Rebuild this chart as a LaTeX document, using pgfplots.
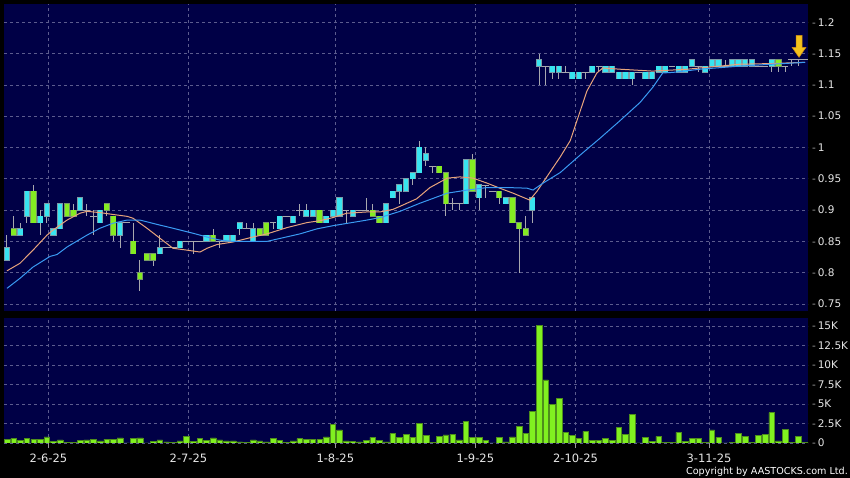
\documentclass[border=0pt]{standalone}
\usepackage{pgfplots}
\pgfplotsset{compat=1.18}
\usepackage{pgfplotstable}
\usepackage{fontspec}
\setmainfont{DejaVu Sans}

\definecolor{navybg}{HTML}{000046}
\definecolor{gridc}{HTML}{5C5C8E}
\definecolor{wick}{HTML}{A8A8AE}
\definecolor{cyanbody}{HTML}{38E4F0}
\definecolor{cyanedge}{HTML}{7C9CA8}
\definecolor{greenbody}{HTML}{84EC22}
\definecolor{greenedge}{HTML}{76966A}
\definecolor{volfill}{HTML}{80F020}
\definecolor{voledge}{HTML}{4E8E1C}
\definecolor{maorange}{HTML}{E8A47C}
\definecolor{mablue}{HTML}{3A9AF2}
\definecolor{labelc}{HTML}{E6E6E6}
\definecolor{tickc}{HTML}{9A9A9A}
\definecolor{arrowc}{HTML}{F4C21C}
\definecolor{arrowedge}{HTML}{D08A10}

\newcommand{\tl}[1]{\textcolor{tickc}{-}\hspace{2bp}#1}

% candles: i, wick low, wick high, body low, body high
\pgfplotstableread{
i wl wh bl bh
0 0.82 0.86 0.82 0.84
2 0.86 0.88 0.86 0.87
3 0.88 0.93 0.89 0.93
5 0.86 0.90 0.88 0.89
6 0.88 0.91 0.89 0.91
7 0.86 0.87 0.86 0.87
8 0.87 0.91 0.87 0.91
11 0.90 0.92 0.90 0.92
14 0.88 0.90 0.88 0.90
17 0.84 0.88 0.86 0.88
23 0.83 0.86 0.83 0.84
26 0.84 0.85 0.84 0.85
30 0.85 0.86 0.85 0.86
33 0.85 0.86 0.85 0.86
34 0.85 0.86 0.85 0.86
35 0.86 0.88 0.87 0.88
37 0.85 0.88 0.85 0.87
41 0.87 0.89 0.87 0.89
43 0.88 0.89 0.88 0.89
45 0.89 0.91 0.89 0.90
46 0.89 0.90 0.89 0.90
48 0.88 0.89 0.88 0.89
49 0.89 0.90 0.89 0.90
50 0.89 0.92 0.89 0.92
52 0.89 0.90 0.89 0.90
57 0.88 0.91 0.88 0.91
58 0.92 0.93 0.92 0.93
59 0.91 0.94 0.93 0.94
60 0.93 0.95 0.93 0.95
61 0.94 0.96 0.95 0.96
62 0.96 1.01 0.96 1.00
63 0.97 1.00 0.98 0.99
69 0.91 0.98 0.91 0.98
71 0.90 0.94 0.92 0.94
75 0.91 0.92 0.91 0.92
79 0.88 0.92 0.90 0.92
80 1.10 1.15 1.13 1.14
82 1.11 1.13 1.12 1.13
83 1.11 1.13 1.12 1.13
85 1.11 1.12 1.11 1.12
86 1.11 1.12 1.11 1.12
88 1.12 1.13 1.12 1.13
90 1.12 1.13 1.12 1.13
91 1.12 1.13 1.12 1.13
92 1.11 1.12 1.11 1.12
93 1.11 1.12 1.11 1.12
94 1.10 1.12 1.11 1.12
96 1.11 1.12 1.11 1.12
97 1.11 1.12 1.11 1.12
98 1.12 1.13 1.12 1.13
99 1.12 1.13 1.12 1.13
101 1.12 1.13 1.12 1.13
102 1.12 1.13 1.12 1.13
103 1.13 1.14 1.13 1.14
105 1.12 1.13 1.12 1.13
106 1.13 1.14 1.13 1.14
107 1.13 1.14 1.13 1.14
109 1.13 1.14 1.13 1.14
110 1.13 1.14 1.13 1.14
111 1.13 1.14 1.13 1.14
112 1.13 1.14 1.13 1.14
115 1.12 1.14 1.13 1.14
}\cyandata

\pgfplotstableread{
i wl wh bl bh
1 0.86 0.89 0.86 0.87
4 0.88 0.94 0.88 0.93
9 0.89 0.91 0.89 0.91
10 0.89 0.91 0.89 0.90
15 0.89 0.91 0.90 0.91
16 0.85 0.89 0.86 0.89
19 0.83 0.88 0.83 0.85
20 0.77 0.82 0.79 0.80
21 0.82 0.83 0.82 0.83
22 0.81 0.83 0.82 0.83
31 0.85 0.87 0.85 0.86
38 0.86 0.87 0.86 0.87
39 0.86 0.88 0.86 0.88
47 0.88 0.90 0.88 0.90
55 0.89 0.91 0.89 0.90
56 0.88 0.89 0.88 0.89
65 0.96 0.97 0.96 0.97
66 0.89 0.96 0.91 0.96
70 0.93 0.99 0.93 0.98
74 0.91 0.93 0.92 0.93
76 0.88 0.92 0.88 0.92
77 0.80 0.88 0.87 0.88
78 0.86 0.89 0.86 0.87
116 1.12 1.14 1.13 1.14
}\greendata

% doji: i, wick low, wick high, price
\pgfplotstableread{
i wl wh p
12 0.89 0.91 0.90
13 0.86 0.90 0.89
18 0.88 0.88 0.88
24 0.84 0.84 0.84
25 0.84 0.84 0.84
27 0.85 0.85 0.85
28 0.83 0.85 0.85
29 0.85 0.85 0.85
32 0.84 0.85 0.85
36 0.87 0.88 0.87
40 0.87 0.88 0.88
42 0.89 0.89 0.89
44 0.89 0.91 0.90
51 0.88 0.90 0.90
53 0.90 0.90 0.90
54 0.90 0.92 0.90
64 0.96 0.97 0.97
67 0.90 0.92 0.91
68 0.90 0.91 0.91
72 0.92 0.94 0.94
73 0.93 0.93 0.93
81 1.10 1.13 1.13
84 1.12 1.13 1.12
87 1.11 1.12 1.12
89 1.12 1.13 1.13
95 1.12 1.12 1.12
100 1.13 1.13 1.13
104 1.12 1.13 1.13
108 1.13 1.14 1.13
113 1.13 1.13 1.13
114 1.13 1.13 1.13
117 1.12 1.13 1.13
118 1.13 1.14 1.14
119 1.13 1.14 1.14
120 1.14 1.14 1.14
}\crossdata

% volume in thousands
\pgfplotstableread{
i v
0 0.47
1 0.60
2 0.38
3 0.56
4 0.47
5 0.45
6 0.77
7 0.17
8 0.40
9 0.10
10 0.10
11 0.30
12 0.40
13 0.47
14 0.28
15 0.45
16 0.45
17 0.66
18 0.03
19 0.56
20 0.66
21 0.02
22 0.20
23 0.40
24 0.13
25 0.05
26 0.28
27 0.81
28 0.20
29 0.60
30 0.30
31 0.66
32 0.40
33 0.28
34 0.28
35 0.13
36 0.10
37 0.40
38 0.28
39 0.13
40 0.56
41 0.30
42 0.05
43 0.28
44 0.56
45 0.50
46 0.50
47 0.47
48 0.80
49 2.43
50 1.67
51 0.28
52 0.20
53 0.13
54 0.30
55 0.73
56 0.35
57 0.13
58 1.20
59 0.73
60 1.07
61 0.68
62 2.56
63 0.94
64 0.05
65 0.86
66 1.03
67 1.15
68 0.40
69 2.82
70 0.68
71 0.68
72 0.35
73 0.02
74 0.68
75 0.13
76 0.77
77 2.09
78 1.24
79 4.02
80 15.09
81 8.08
82 5.00
83 5.73
84 1.37
85 0.98
86 0.60
87 1.50
88 0.38
89 0.38
90 0.56
91 0.35
92 2.05
93 1.07
94 3.63
95 0.02
96 0.68
97 0.20
98 0.86
99 0.05
100 0.10
101 1.37
102 0.20
103 0.60
104 0.60
105 0.05
106 1.67
107 0.73
108 0.02
109 0.10
110 1.24
111 0.85
112 0.05
113 0.94
114 1.07
115 3.89
116 0.28
117 1.75
118 0.05
119 0.81
120 0.10
}\voldata

\pgfplotsset{
  panel/.style={
    scale only axis, width=804bp,
    xmin=-0.45, xmax=120.45,
    axis background/.style={fill=navybg},
    axis line style={draw=none},
    grid=major,
    major grid style={draw=gridc, dash pattern=on 3bp off 3bp, line width=0.6bp},
    xtick={6.24,27.29,49.37,70.42,85.49,105.56},
    tick align=outside, major tick length=5bp,
    ytick pos=right, yticklabel pos=right,
    ytick style={draw=none},
    tick label style={color=labelc},
    yticklabel style={font=\fontsize{10.5bp}{12bp}\selectfont, xshift=-4.5bp},
  },
  % symmetric vertical bar around a centre value; no line, no marker
  vbar/.style n args={2}{forget plot, draw=none, mark=none,
    error bars/.cd, y dir=both, y explicit, error mark=none,
    error bar style={line width=#1, draw=#2, solid}},
}

\begin{document}
\begin{tikzpicture}
\useasboundingbox (0,0) rectangle (850bp,478bp);
\fill[black] (0,0) rectangle (850bp,478bp);

% price panel
\begin{axis}[panel,
  at={(4bp,167bp)}, anchor=south west, height=307bp,
  ymin=0.7388, ymax=1.2292,
  ytick={0.75,0.8,0.85,0.9,0.95,1,1.05,1.1,1.15,1.2},
  yticklabels={\tl{0.75},\tl{0.8},\tl{0.85},\tl{0.9},\tl{0.95},\tl{1},\tl{1.05},\tl{1.1},\tl{1.15},\tl{1.2}},
  xticklabels={}, xtick style={draw=none},
]
% wicks
\addplot[vbar={1bp}{wick}] table[x=i, y expr=(\thisrow{wl}+\thisrow{wh})/2, y error expr=(\thisrow{wh}-\thisrow{wl})/2] \cyandata;
\addplot[vbar={1bp}{wick}] table[x=i, y expr=(\thisrow{wl}+\thisrow{wh})/2, y error expr=(\thisrow{wh}-\thisrow{wl})/2] \greendata;
\addplot[vbar={1bp}{wick}] table[x=i, y expr=(\thisrow{wl}+\thisrow{wh})/2, y error expr=(\thisrow{wh}-\thisrow{wl})/2] \crossdata;
% bodies: outline, then fill
\addplot[vbar={6.2bp}{cyanedge}] table[x=i, y expr=(\thisrow{bl}+\thisrow{bh})/2, y error expr=(\thisrow{bh}-\thisrow{bl})/2+0.0009] \cyandata;
\addplot[vbar={4.6bp}{cyanbody}] table[x=i, y expr=(\thisrow{bl}+\thisrow{bh})/2, y error expr=(\thisrow{bh}-\thisrow{bl})/2] \cyandata;
\addplot[vbar={6.2bp}{greenedge}] table[x=i, y expr=(\thisrow{bl}+\thisrow{bh})/2, y error expr=(\thisrow{bh}-\thisrow{bl})/2+0.0009] \greendata;
\addplot[vbar={4.6bp}{greenbody}] table[x=i, y expr=(\thisrow{bl}+\thisrow{bh})/2, y error expr=(\thisrow{bh}-\thisrow{bl})/2] \greendata;
% doji: horizontal bars
\addplot[forget plot, draw=none, mark=none,
  error bars/.cd, x dir=both, x fixed=0.5, error mark=none,
  error bar style={line width=1bp, draw=wick, solid}] table[x=i, y=p] \crossdata;
% 10-day average
\addplot[color=maorange, line width=1bp] coordinates {
(0,0.803) (1.95,0.815) (3.91,0.836) (6.02,0.860) (6.92,0.868) (9.02,0.884)
(10.98,0.895) (12.03,0.898) (13.98,0.896) (15.94,0.893) (18.05,0.890) (18.95,0.887)
(21.05,0.871) (23.0,0.855) (24.96,0.839) (27.07,0.836) (29.02,0.833) (30.08,0.839)
(31.58,0.845) (33.98,0.849) (36.99,0.857) (39.1,0.862) (42.1,0.872) (45.1,0.880)
(47.07,0.883) (49.0,0.888) (51.1,0.895) (54.1,0.897) (56.1,0.897) (58.0,0.901)
(59.1,0.906) (61.6,0.918) (63.6,0.936) (66.2,0.951) (68.1,0.953) (70.1,0.951)
(72.2,0.943) (74.1,0.935) (76.1,0.927) (78.6,0.916) (79.7,0.930) (83.2,0.985)
(84.7,1.011) (87.2,1.090) (88.7,1.119) (89.6,1.127) (92.2,1.125) (97.1,1.122)
(102.3,1.125) (104.2,1.127) (110.2,1.133) (114.7,1.134) (120,1.136)
};
% 20-day average
\addplot[color=mablue, line width=1bp] coordinates {
(0,0.775) (1.95,0.791) (3.91,0.809) (6.47,0.826) (7.52,0.829) (9.02,0.841)
(12.03,0.860) (13.98,0.871) (15.94,0.879) (18.05,0.884) (20.0,0.884) (23.0,0.876)
(24.96,0.871) (27.97,0.863) (30.08,0.857) (32.03,0.852) (34.0,0.850) (39.1,0.850)
(44.06,0.862) (46.6,0.870) (49.0,0.875) (54.1,0.884) (56.1,0.888) (59.1,0.898)
(62.1,0.911) (66.2,0.927) (69.2,0.932) (72.2,0.936) (75.2,0.936) (78.2,0.935)
(79.1,0.932) (80.6,0.943) (83.2,0.960) (86.2,0.988) (89.2,1.015) (92.2,1.043)
(95.2,1.072) (97.1,1.096) (98.6,1.119) (100.2,1.120) (104.2,1.125) (110.2,1.130)
(120,1.136)
};
% pointer arrow
\fill[arrowc, draw=arrowedge, line width=0.5bp]
  (axis cs:118.65,1.179) -- (axis cs:119.55,1.179) -- (axis cs:119.55,1.160)
  -- (axis cs:120.15,1.160) -- (axis cs:119.1,1.144) -- (axis cs:118.05,1.160)
  -- (axis cs:118.65,1.160) -- cycle;
\end{axis}

% volume panel
\begin{axis}[panel,
  at={(4bp,35bp)}, anchor=south west, height=125bp,
  ymin=0, ymax=16.03,
  ytick={0,2.5,5,7.5,10,12.5,15},
  yticklabels={\tl{0},\tl{2.5K},\tl{5K},\tl{7.5K},\tl{10K},\tl{12.5K},\tl{15K}},
  xticklabels={2-6-25,2-7-25,1-8-25,1-9-25,2-10-25,3-11-25},
  xtick pos=left,
  xtick style={draw=tickc, line width=0.8bp},
  xticklabel style={font=\fontsize{11.5bp}{13bp}\selectfont, yshift=-2.5bp},
]
\addplot[ybar, bar width=5.6bp, bar shift=0pt, fill=volfill, draw=voledge, line width=0.5bp]
  table[x=i, y=v] \voldata;
\end{axis}

\node[anchor=base east, inner sep=0pt, text=white, font=\fontsize{9.6bp}{11bp}\selectfont]
  at (848bp,4bp) {Copyright by AASTOCKS.com Ltd.};
\end{tikzpicture}
\end{document}
